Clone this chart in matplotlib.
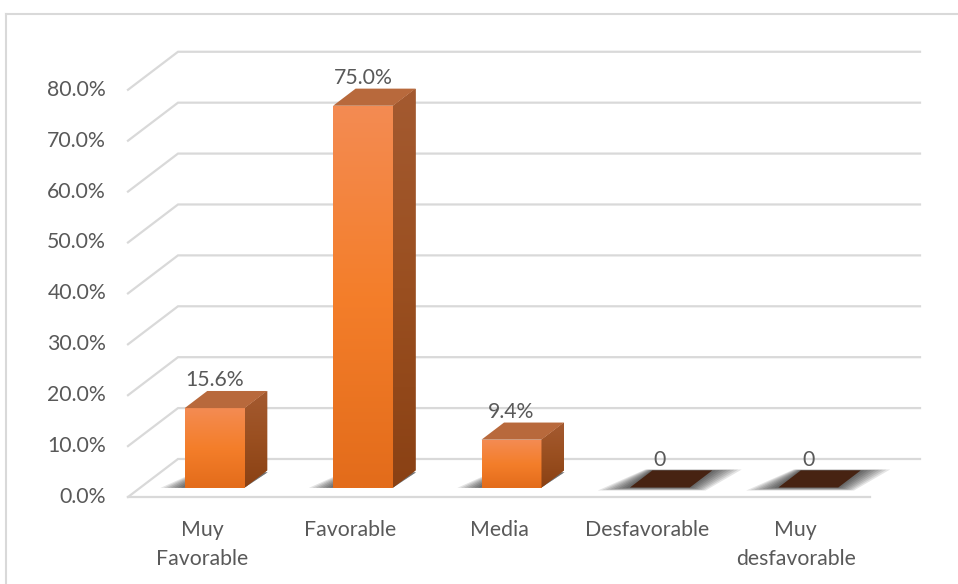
import numpy as np
import matplotlib
matplotlib.use("Agg")
import matplotlib.pyplot as plt
from matplotlib.patches import Polygon
from matplotlib.colors import to_rgb
from matplotlib.lines import Line2D

categories = ["Muy\nFavorable", "Favorable", "Media", "Desfavorable", "Muy\ndesfavorable"]
values = [15.6, 75.0, 9.4, 0.0, 0.0]
yticks = [0, 10, 20, 30, 40, 50, 60, 70, 80]
ytick_labels = ["0.0%", "10.0%", "20.0%", "30.0%", "40.0%", "50.0%", "60.0%", "70.0%", "80.0%"]

# oblique "3d" look: depth offsets in data units
DX = 0.337
DY = 7.47
ZF, ZB = 0.25, 0.70
BW = 0.404
TXT = "#595959"
GRID = "#d9d9d9"
FS = 15.3

plt.rcParams['font.family'] = ['Lato', 'DejaVu Sans']

fig = plt.figure(figsize=(9.58, 5.84), dpi=100)
ax = fig.add_axes([0, 0, 1, 1])
ax.axis('off')


def proj(x, y, z):
    return (x + z * DX, y + z * DY)


n = len(categories)
x0, x1 = -0.5, n - 0.5

# gridlines (side wall diagonal + back wall)
for t in yticks:
    a = proj(x0, t, 0)
    b = proj(x0, t, 1)
    c = proj(x1, t, 1)
    ax.plot([a[0], b[0], c[0]], [a[1], b[1], c[1]], color=GRID, lw=1.6, zorder=1,
            solid_joinstyle='miter')
f0 = proj(x0, 0, 0)
f1 = proj(x1, 0, 0)
ax.plot([f0[0], f1[0]], [f0[1], f1[1]], color=GRID, lw=1.6, zorder=1)

# y tick labels
for t, lab in zip(yticks, ytick_labels):
    ax.text(-0.648, t, lab, ha='right', va='center', fontsize=FS, color=TXT)

# category labels
for i, cat in enumerate(categories):
    ax.text(i, -4.5, cat, ha='center', va='top', fontsize=FS, color=TXT,
            linespacing=1.55)


def grad(stops, n=64):
    cols = [np.array(to_rgb(c)) for c in stops]
    pos = np.linspace(0, 1, len(cols))
    t = np.linspace(0, 1, n)
    out = np.zeros((n, 3))
    for ch in range(3):
        out[:, ch] = np.interp(t, pos, [c[ch] for c in cols])
    return out[:, None, :]


for i, v in enumerate(values):
    xl = i - BW / 2
    xr = i + BW / 2

    # shadow on floor
    if v > 0:
        for k in range(7):
            ext = 0.16 * (1 - k / 7)
            pts = [proj(xl - ext, 0, ZF - 0.01), proj(xr, 0, ZF - 0.01),
                   proj(xr + 0.02, 0, ZB - 0.05), proj(xl - ext * 0.4, 0, ZB - 0.05)]
            ax.add_patch(Polygon(pts, closed=True, facecolor='black', edgecolor='none',
                                 alpha=0.11, zorder=2))
    else:
        for k in range(8):
            ext = 0.19 * (1 - k / 8)
            dz = 0.08 * (1 - k / 8)
            pts = [proj(xl - ext, 0, ZF - dz), proj(xr + ext * 0.7, 0, ZF - dz),
                   proj(xr + ext, 0, ZB + dz * 0.3), proj(xl - ext * 0.3, 0, ZB + dz * 0.3)]
            ax.add_patch(Polygon(pts, closed=True, facecolor='black', edgecolor='none',
                                 alpha=0.10, zorder=2))

    if v > 0:
        # front face
        bars = ax.bar(i + ZF * DX, v, width=BW, bottom=ZF * DY, color='#F47C26',
                      edgecolor='none', zorder=3)
        patch = bars[0]
        fx0 = i + ZF * DX - BW / 2
        fx1 = i + ZF * DX + BW / 2
        im = ax.imshow(grad(['#F38B52', '#F47E2A', '#E36C1B']),
                       extent=[fx0, fx1, ZF * DY, ZF * DY + v],
                       aspect='auto', zorder=3.1, interpolation='bilinear')
        im.set_clip_path(patch)
        # right face
        side = [proj(xr, 0, ZF), proj(xr, 0, ZB), proj(xr, v, ZB), proj(xr, v, ZF)]
        sp = Polygon(side, closed=True, facecolor='#974C1E', edgecolor='none', zorder=3)
        ax.add_patch(sp)
        sx = [p[0] for p in side]
        sy = [p[1] for p in side]
        im2 = ax.imshow(grad(['#A45A30', '#9A4F20', '#8A4114']),
                        extent=[min(sx), max(sx), min(sy), max(sy)],
                        aspect='auto', zorder=3.1, interpolation='bilinear')
        im2.set_clip_path(sp)
        top_color = '#B8693C'
    else:
        top_color = '#472312'

    top = [proj(xl, v, ZF), proj(xr, v, ZF), proj(xr, v, ZB), proj(xl, v, ZB)]
    ax.add_patch(Polygon(top, closed=True, facecolor=top_color, edgecolor='none', zorder=3.2))

    # value label
    lab = f"{v:.1f}%" if v > 0 else "0"
    ax.text(i + ZF * DX, v + ZB * DY + 2.1, lab, ha='center', va='center',
            fontsize=FS, color=TXT, zorder=5)

# map data to the pixel layout
ax.set_xlim(-1.3625, 5.093)
ax.set_ylim(-17.09, 97.64)

# outer chart border
fig.add_artist(Line2D([6 / 958, 6 / 958], [0, 1 - 14 / 584], transform=fig.transFigure,
                      color=GRID, lw=1.5))
fig.add_artist(Line2D([6 / 958, 1], [1 - 14 / 584, 1 - 14 / 584], transform=fig.transFigure,
                      color=GRID, lw=1.5))

fig.savefig("out.png", dpi=100, facecolor='white')
